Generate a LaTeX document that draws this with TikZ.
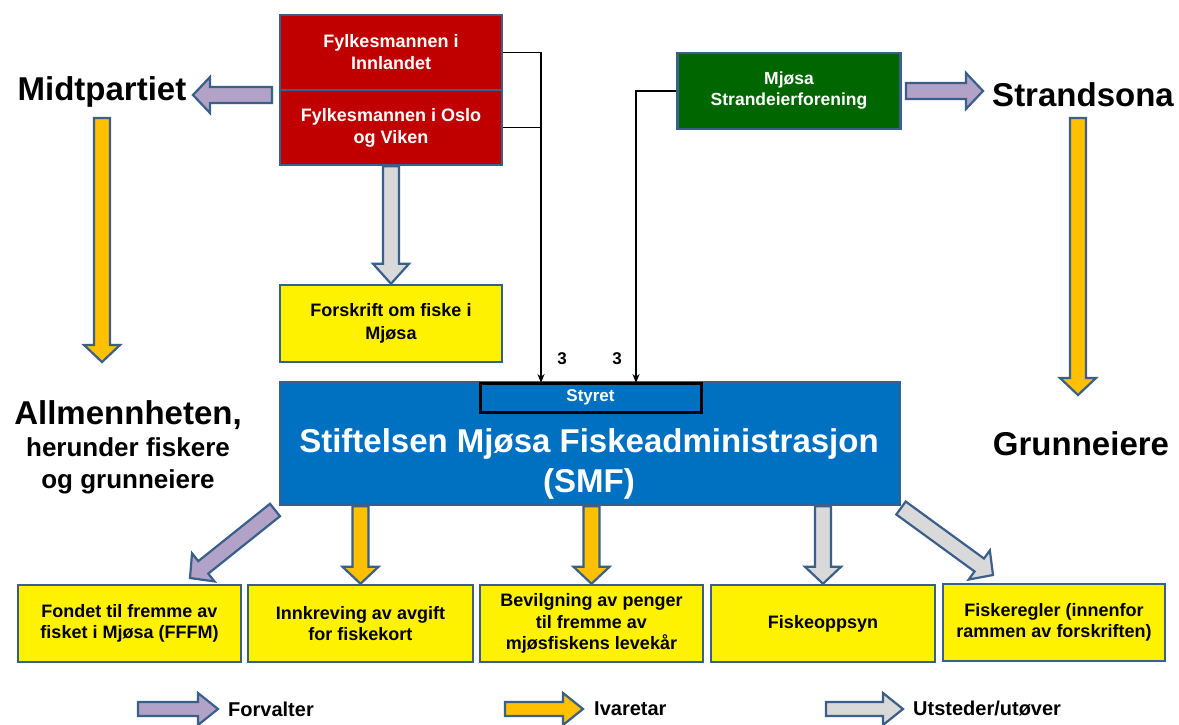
\documentclass[tikz,border=0pt]{standalone}
\usepackage{fontspec}
\setmainfont{Liberation Sans}
\usetikzlibrary{calc,arrows.meta}

\definecolor{boxline}{HTML}{3A5F8B}
\definecolor{fkred}{HTML}{C00000}
\definecolor{fkgreen}{HTML}{006600}
\definecolor{smfblue}{HTML}{0070C0}
\definecolor{lilac}{HTML}{B3A2C7}
\definecolor{amber}{HTML}{FFC000}
\definecolor{lightgrey}{HTML}{D9D9D9}

\newcommand\fsz[2]{\fontsize{#1}{#2}\selectfont}
\newcommand\fashaft{8pt}
\newcommand\fahead{18pt}
% fat block arrow: [head length]{fill}{from}{to}
\newcommand\fatarrow[4][17]{%
  \coordinate (fa-base) at ($#4!#1pt!#3$);
  \filldraw[fat arrow, fill=#2] ($#3!\fashaft!90:#4$) -- ($(fa-base)!\fashaft!-90:#3$)
    -- ($(fa-base)!\fahead!-90:#3$) -- #4 -- ($(fa-base)!\fahead!90:#3$)
    -- ($(fa-base)!\fashaft!90:#3$) -- ($#3!\fashaft!-90:#4$) -- cycle;}

\begin{document}
\begin{tikzpicture}[x=1pt, y=-1pt,
    box/.style={draw=boxline, line width=2.5pt, minimum width=222pt, minimum height=75pt,
      inner sep=0pt, align=center, font=\bfseries\fsz{18}{22}},
    redbox/.style={box, fill=fkred, text=white},
    yellowbox/.style={box, fill=yellow, minimum width=223pt, minimum height=77pt, font=\bfseries\fsz{18}{21.5}},
    side/.style={inner sep=0pt, font=\bfseries\fsz{33}{38}},
    num/.style={inner sep=0pt, font=\bfseries\fsz{17}{20}},
    legend/.style={inner sep=0pt, anchor=west, font=\bfseries\fsz{20}{24}},
    link/.style={line width=1.8pt, -{Stealth[length=9pt,width=7pt]}},
    fat arrow/.style={draw=boxline, line width=2.2pt}]
  \useasboundingbox (0,0) rectangle (1179,724);

  % top boxes
  \node[redbox] (red1) at (391,52.5) {Fylkesmannen i\\Innlandet};
  \node[redbox] (red2) at (391,127.5) {Fylkesmannen i Oslo\\og Viken};
  \node[box, fill=fkgreen, text=white, minimum width=223pt, minimum height=76pt,
    font=\bfseries\fsz{17.5}{21}] (green) at (789,91) {Mjøsa\\Strandeierforening};
  \node[yellowbox, minimum width=222pt, font=\bfseries\fsz{18}{23}] (forskrift) at (391,323.5) {Forskrift om fiske i\\Mjøsa};

  % SMF
  \node[box, fill=smfblue, minimum width=620pt, minimum height=123pt] (smf) at (590,443.5) {};
  \node[draw=black, line width=3pt, fill=smfblue, text=white, minimum width=221pt, minimum height=29pt,
    inner sep=0pt, font=\bfseries\fsz{17}{20}] (styret) at (590.5,397.5) {Styret};
  \node[align=center, inner sep=0pt, text=white, font=\bfseries\fsz{33}{40}] (smftitle) at (589,464)
    {Stiftelsen Mjøsa Fiskeadministrasjon\\(SMF)};

  % side texts
  \node[side] (midt) at (102,92) {Midtpartiet};
  \node[side] (strand) at (1083,95) {Strandsona};
  \node[side] (grunn) at (1081,444) {Grunneiere};
  \node[side, anchor=north, align=center, font=\bfseries\fsz{26}{32}] (allm) at (128,400)
    {{\fsz{33}{32}Allmennheten,}\\herunder fiskere\\og grunneiere};

  % bottom boxes
  \node[yellowbox] (fond) at (129.5,623.5) {Fondet til fremme av\\fisket i Mjøsa (FFFM)};
  \node[yellowbox, minimum width=225pt] (avgift) at (360.5,623.5) {Innkreving av avgift\\for fiskekort};
  \node[yellowbox] (bevilg) at (591.5,623.5) {Bevilgning av penger\\til fremme av\\mjøsfiskens levekår};
  \node[yellowbox, minimum width=224pt] (oppsyn) at (823,623.5) {Fiskeoppsyn};
  \node[yellowbox, minimum width=222pt] (regler) at (1054,622.5) {Fiskeregler (innenfor\\rammen av forskriften)};

  % board seats
  \coordinate (in1) at (541,383);
  \coordinate (in2) at (636,383);
  \draw[link] (red1.east) -| (in1);
  \draw[line width=1.8pt] (red2.east) -- (red2.east -| in1);
  \draw[link] (green.west) -| (in2);
  \node[num] (seat1) at (562,359) {3};
  \node[num] (seat2) at (617,359) {3};

  % fat arrows
  \coordinate (mp-tail) at (272,95);
  \coordinate (mp-tip) at (193,95);
  \coordinate (sd-tail) at (906,91);
  \coordinate (sd-tip) at (983,91);
  \coordinate (mpd-tail) at (102,118);
  \coordinate (mpd-tip) at (102,362);
  \coordinate (sdd-tail) at (1078,118);
  \coordinate (sdd-tip) at (1078,395);
  \coordinate (fond-tail) at (275,510);
  \coordinate (fond-tip) at (190,578);
  \coordinate (regler-tail) at (901,508);
  \coordinate (regler-tip) at (993,575);

  \fatarrow{lilac}{(mp-tail)}{(mp-tip)}
  \fatarrow{lilac}{(sd-tail)}{(sd-tip)}
  \fatarrow{amber}{(mpd-tail)}{(mpd-tip)}
  \fatarrow{amber}{(sdd-tail)}{(sdd-tip)}
  \fatarrow[20]{lightgrey}{(red2.south)}{(forskrift.north)}
  \fatarrow{lilac}{(fond-tail)}{(fond-tip)}
  \fatarrow{amber}{(smf.south -| avgift.north)}{(avgift.north)}
  \fatarrow{amber}{(smf.south -| bevilg.north)}{(bevilg.north)}
  \fatarrow{lightgrey}{(smf.south -| oppsyn.north)}{(oppsyn.north)}
  \fatarrow{lightgrey}{(regler-tail)}{(regler-tip)}

  % legend
  \coordinate (lg1a) at (138,709);
  \coordinate (lg1b) at (218,709);
  \coordinate (lg2a) at (505,709);
  \coordinate (lg2b) at (583,709);
  \coordinate (lg3a) at (826,709);
  \coordinate (lg3b) at (903,709);
  \begin{scope}
    \renewcommand\fashaft{7pt}
    \renewcommand\fahead{16pt}
    \fatarrow[20]{lilac}{(lg1a)}{(lg1b)}
    \fatarrow[20]{amber}{(lg2a)}{(lg2b)}
    \fatarrow[20]{lightgrey}{(lg3a)}{(lg3b)}
  \end{scope}
  \node[legend] (forvalter) at (228,709) {Forvalter};
  \node[legend] (ivaretar) at (594,709) {Ivaretar};
  \node[legend] (utsteder) at (913,709) {Utsteder/utøver};
\end{tikzpicture}
\end{document}
